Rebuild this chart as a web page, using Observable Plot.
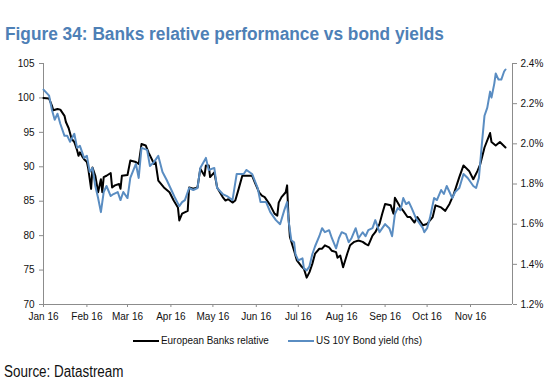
<!DOCTYPE html>
<html>
<head>
<meta charset="utf-8">
<script src="https://cdn.jsdelivr.net/npm/d3@7"></script>
<script src="https://cdn.jsdelivr.net/npm/@observablehq/plot@0.6"></script>
<style>
  html, body { margin: 0; padding: 0; background: #fff; }
  body { width: 554px; height: 391px; position: relative; overflow: hidden;
         font-family: "Liberation Sans", Arial, sans-serif; }
  #title { position: absolute; left: 5px; top: 24px; font-size: 18px; line-height: 20px; font-weight: bold; color: #4e80b6; white-space: nowrap;
           transform: scaleX(0.96); transform-origin: 0 50%; }
  #chart { position: absolute; left: 0; top: 50px; }
  .leg { position: absolute; top: 334px; height: 13px; font-size: 11px; line-height: 13px; color: #111; display: flex; align-items: center; white-space: nowrap; }
  .leg svg { margin-right: 2px; }
  .leg span { display: inline-block; transform: scaleX(0.9); transform-origin: 0 50%; }
  #source { position: absolute; left: 4px; top: 363px; font-size: 16px; color: #111; white-space: nowrap;
            transform: scaleX(0.84); transform-origin: 0 50%; }
</style>
</head>
<body>
<div id="title"></div>
<div id="chart"></div>
<div class="leg" id="leg1" style="left:133px"></div>
<div class="leg" id="leg2" style="left:288px"></div>
<div id="source"></div>
<script>
const titleText = "Figure 34: Banks relative performance vs bond yields";
const sourceText = "Source: Datastream";
const seriesNames = ["European Banks relative", "US 10Y Bond yield (rhs)"];
const seriesColors = ["#000000", "#5a8dc2"];
const startDate = "2016-01-01";
const endDate = "2016-12-01";
const leftTicks = [70, 75, 80, 85, 90, 95, 100, 105];
const rightTicks = [1.2, 1.4, 1.6, 1.8, 2.0, 2.2, 2.4];
const monthTicks = ["2016-01-01","2016-02-01","2016-03-01","2016-04-01","2016-05-01","2016-06-01","2016-07-01","2016-08-01","2016-09-01","2016-10-01","2016-11-01"];

// [days since 2016-01-01, value]
const banksRelative = [[0,100.0],[4,99.9],[6,98.9],[7,98.2],[10,98.4],[12,98.3],[15,97.4],[16,96.5],[18,95.6],[20,94.1],[22,93.6],[24,92.4],[25,91.6],[26,92.1],[28,91.4],[29,91.1],[31,90.7],[32,89.7],[34,86.8],[35,89.9],[37,88.7],[39,86.3],[41,88.2],[42,86.3],[43,88.5],[45,88.7],[48,89.1],[49,87.0],[51,87.3],[54,87.5],[55,86.8],[56,88.7],[60,88.8],[62,90.9],[66,90.7],[68,90.4],[70,93.3],[73,93.1],[75,92.1],[79,90.4],[80,90.7],[82,88.0],[86,87.0],[90,86.3],[93,85.1],[96,84.1],[97,82.2],[99,83.2],[103,83.6],[104,87.0],[107,86.8],[110,87.0],[112,89.7],[115,88.7],[116,90.2],[118,90.2],[119,88.5],[122,89.2],[124,87.0],[128,85.6],[130,85.1],[132,85.3],[135,84.8],[137,85.1],[139,86.5],[142,88.7],[145,88.7],[149,88.7],[151,87.7],[154,86.3],[156,85.8],[158,85.6],[162,84.4],[165,83.2],[167,82.9],[168,84.8],[170,85.6],[173,86.3],[174,87.3],[175,82.7],[176,79.8],[179,77.8],[181,76.4],[184,75.6],[186,75.2],[188,73.9],[190,74.7],[192,75.9],[194,77.4],[197,78.1],[199,78.1],[201,78.6],[204,78.3],[206,77.8],[209,77.6],[210,76.8],[212,77.1],[214,75.4],[217,77.4],[219,78.6],[222,79.1],[225,79.3],[228,79.1],[230,78.8],[232,78.6],[235,80.0],[237,80.5],[240,81.7],[242,83.2],[244,84.6],[248,84.4],[250,83.2],[251,85.5],[255,84.1],[257,83.6],[260,82.7],[262,82.7],[265,81.9],[267,82.7],[271,81.5],[274,81.7],[278,82.7],[280,84.4],[284,84.1],[287,83.6],[290,84.6],[293,86.0],[297,88.5],[300,90.2],[304,89.4],[307,88.2],[310,89.4],[312,90.4],[315,92.8],[319,94.9],[320,93.6],[323,93.1],[326,93.6],[330,92.8]];

// [days since 2016-01-01, yield %]
const us10y = [[0,2.27],[4,2.24],[6,2.17],[8,2.12],[10,2.15],[12,2.10],[15,2.04],[17,2.04],[19,2.01],[22,2.05],[24,1.98],[26,1.99],[29,1.93],[31,1.94],[33,1.86],[35,1.88],[37,1.79],[39,1.73],[41,1.66],[43,1.76],[45,1.79],[48,1.74],[50,1.75],[53,1.76],[55,1.72],[57,1.76],[60,1.73],[62,1.83],[66,1.90],[68,1.83],[70,1.98],[74,1.97],[76,1.89],[79,1.91],[82,1.94],[85,1.86],[88,1.82],[92,1.76],[94,1.73],[97,1.69],[99,1.71],[101,1.72],[104,1.78],[107,1.77],[110,1.78],[112,1.88],[116,1.93],[118,1.87],[122,1.88],[124,1.78],[128,1.75],[131,1.74],[135,1.72],[138,1.85],[143,1.85],[145,1.87],[149,1.85],[153,1.78],[155,1.71],[159,1.71],[162,1.66],[166,1.62],[169,1.60],[172,1.67],[174,1.71],[175,1.62],[177,1.52],[179,1.51],[180,1.45],[182,1.42],[185,1.43],[186,1.38],[188,1.37],[190,1.39],[192,1.45],[194,1.49],[197,1.54],[199,1.58],[201,1.56],[204,1.57],[206,1.53],[209,1.48],[211,1.53],[213,1.56],[216,1.55],[218,1.51],[220,1.53],[223,1.58],[225,1.53],[228,1.56],[230,1.54],[232,1.57],[235,1.58],[237,1.62],[240,1.56],[242,1.58],[244,1.60],[247,1.58],[249,1.54],[251,1.65],[253,1.68],[255,1.67],[257,1.73],[259,1.70],[261,1.71],[263,1.68],[266,1.63],[268,1.61],[271,1.58],[272,1.56],[274,1.58],[276,1.63],[279,1.73],[281,1.72],[284,1.77],[286,1.75],[288,1.79],[290,1.76],[292,1.73],[294,1.76],[297,1.78],[300,1.85],[303,1.83],[305,1.81],[307,1.79],[309,1.78],[311,1.83],[313,1.99],[315,2.14],[317,2.18],[319,2.26],[320,2.23],[322,2.30],[323,2.35],[325,2.32],[327,2.32],[329,2.36],[330,2.37]];

const parse = d3.utcParse("%Y-%m-%d");
const t0 = parse(startDate);
const toDate = d => d3.utcDay.offset(t0, d);
const leftDom = [70, 105], rightDom = [1.2, 2.4];
const toLeft = r => leftDom[0] + (r - rightDom[0]) * (leftDom[1] - leftDom[0]) / (rightDom[1] - rightDom[0]);
const toRight = v => rightDom[0] + (v - leftDom[0]) * (rightDom[1] - rightDom[0]) / (leftDom[1] - leftDom[0]);

const banksData = banksRelative.map(([d, v]) => ({date: toDate(d), v}));
const yieldData = us10y.map(([d, r]) => ({date: toDate(d), v: toLeft(r)}));

const axisColor = "#8c8c8c";

const chart = Plot.plot({
  width: 554,
  height: 278,
  marginTop: 13,
  marginLeft: 43,
  marginRight: 42,
  marginBottom: 24,
  style: {fontFamily: '"Liberation Sans", Arial, sans-serif', fontSize: "10px", color: "#111", background: "transparent"},
  x: {type: "utc", domain: [t0, parse(endDate)]},
  y: {domain: leftDom},
  marks: [
    Plot.ruleX([t0], {stroke: axisColor, strokeWidth: 1}),
    Plot.ruleX([parse(endDate)], {stroke: axisColor, strokeWidth: 1}),
    Plot.ruleY([leftDom[0]], {stroke: axisColor, strokeWidth: 1}),
    Plot.axisY({ticks: leftTicks, tickSize: 4, tickPadding: 5, label: null, stroke: axisColor, fill: "#111"}),
    Plot.axisY({anchor: "right", ticks: rightTicks.map(toLeft), tickFormat: v => toRight(v).toFixed(1) + "%", tickSize: 4, tickPadding: 4, label: null, stroke: axisColor, fill: "#111"}),
    Plot.axisX({ticks: monthTicks.map(parse), tickFormat: d3.utcFormat("%b %y"), tickSize: 3, tickPadding: 5, label: null, stroke: axisColor, fill: "#111"}),
    Plot.line(banksData, {x: "date", y: "v", stroke: seriesColors[0], strokeWidth: 2}),
    Plot.line(yieldData, {x: "date", y: "v", stroke: seriesColors[1], strokeWidth: 2})
  ]
});
document.getElementById("chart").appendChild(chart);
document.getElementById("title").textContent = titleText;
document.getElementById("source").textContent = sourceText;
["leg1", "leg2"].forEach((id, i) => {
  const el = document.getElementById(id);
  el.innerHTML = `<svg width="26" height="4"><line x1="0" x2="26" y1="2" y2="2" stroke="${seriesColors[i]}" stroke-width="2"/></svg><span></span>`;
  el.querySelector("span").textContent = seriesNames[i];
});
</script>
</body>
</html>
